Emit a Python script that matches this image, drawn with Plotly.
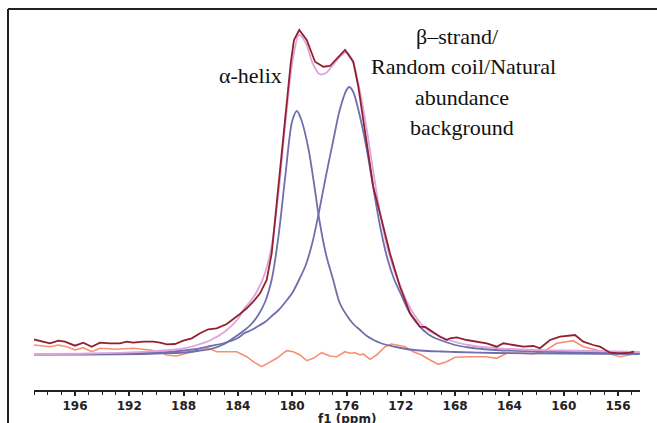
import plotly.graph_objects as go

# ---- experimental spectrum (ppm, intensity) ----
exp_ppm = [199.07, 198.45, 197.84, 197.23, 196.74, 196.0, 195.39, 194.77, 194.16, 193.42,
           192.69, 192.19, 191.71, 190.97, 190.23, 189.74, 189.24, 188.63, 188.02, 187.40,
           186.79, 186.18, 185.56, 184.82, 184.34, 183.85, 183.35, 182.87, 182.37, 181.88,
           181.51, 181.27, 181.02, 180.77, 180.53, 180.29, 180.11, 179.87, 179.48, 178.93,
           178.32, 177.71, 177.22, 176.11, 175.50, 175.13, 174.76, 174.39, 174.03, 173.41,
           172.80, 172.06, 171.32, 170.59, 170.2, 169.11, 168.62, 168.38, 167.88, 167.15,
           166.41, 165.67, 164.94, 164.45, 163.71, 162.98, 162.24, 161.75, 161.01, 160.27,
           159.17, 158.56, 157.82, 157.33, 156.59, 155.86, 155.12, 154.82]
exp_int = [15.7, 13.3, 11.7, 14.3, 13.3, 9.3, 12.3, 8.3, 12.3, 11.7,
           11.7, 13.3, 12.3, 13.3, 13.3, 12.3, 10.7, 11.0, 14.3, 16.7,
           21.7, 25.7, 26.7, 31.0, 35.7, 41.0, 46.7, 53.3, 61.7, 75.0,
           101.7, 135.0, 168.3, 201.7, 235.0, 268.3, 291.7, 315.0, 325.0, 315.0,
           293.3, 288.3, 289.0, 305.0, 293.3, 268.3, 235.0, 201.7, 168.3, 135.0,
           101.7, 68.3, 41.7, 28.3, 28.0, 18.3, 15.0, 16.7, 17.7, 15.0,
           13.3, 11.7, 8.3, 11.7, 10.0, 8.3, 9.0, 6.7, 15.0, 18.3,
           20.0, 13.3, 10.0, 8.3, 2.3, 1.7, 2.3, 3.3]

# ---- residual ----
res_ppm = [199.07, 197.84, 197.23, 196.61, 196.0, 195.39, 194.77, 194.16, 192.93, 191.71,
           190.48, 189.74, 189.24, 188.51, 187.77, 186.79, 186.18, 185.56, 184.82, 184.09,
           183.35, 182.87, 182.25, 181.64, 181.14, 180.41, 179.92, 179.43, 178.93, 178.45,
           177.83, 177.22, 176.72, 176.11, 175.74, 175.37, 175.0, 174.76, 174.27, 173.78,
           173.16, 172.67, 172.18, 171.69, 171.08, 170.46, 169.85, 169.24, 168.62, 168.01,
           166.90, 165.67, 164.94, 164.20, 163.22, 162.24, 161.50, 160.52, 159.29, 158.56,
           157.57, 156.59, 155.86, 154.82]
res_int = [10.0, 8.3, 10.0, 8.3, 5.0, 7.3, 3.3, 6.7, 5.7, 6.7,
           5.0, 3.3, 0.0, -1.0, 1.7, 5.0, 6.7, 3.3, 3.3, 3.3,
           -1.7, -6.7, -11.7, -6.7, -3.3, 4.3, 3.3, 0.0, -5.7, -3.3,
           2.3, -1.0, -1.7, 3.3, 1.7, 2.3, 0.0, 1.0, -4.3, 0.0,
           8.3, 11.0, 10.0, 8.3, 3.3, 0.0, -5.0, -9.3, -6.7, -2.3,
           -1.7, -1.7, -3.3, 1.7, 1.7, 1.0, 3.3, 11.7, 14.3, 8.3,
           5.0, 1.0, -1.7, 1.0]

# ---- fitted total ----
fit_ppm = [199.0, 195.0, 191.0, 189.0, 188.0, 187.0, 186.0, 185.0, 184.0, 183.5, 183.0,
           182.5, 182.0, 181.5, 181.0, 180.5, 180.0, 179.5, 179.0, 178.5, 178.0, 177.5,
           177.0, 176.5, 176.0, 175.5, 175.0, 174.5, 174.0, 173.5, 173.0, 172.5, 172.0,
           171.5, 171.0, 170.5, 170.0, 169.0, 168.0, 167.0, 166.0, 165.0, 164.0, 162.0,
           160.0, 158.0, 156.0, 154.4]
fit_int = [1.0, 1.5, 3.2, 5.0, 6.5, 10.0, 15.0, 23.0, 36.0, 47.0, 55.0,
           66.0, 82.0, 110.0, 163.0, 232.0, 292.0, 320.0, 312.0, 292.0, 281.0, 282.0,
           290.0, 298.0, 303.0, 292.0, 263.0, 225.0, 181.0, 140.0, 108.0, 85.0, 68.0,
           52.0, 40.0, 31.0, 25.0, 18.0, 13.0, 10.0, 8.0, 7.0, 6.0, 5.0,
           4.5, 4.0, 3.5, 3.0]

# ---- alpha-helix component ----
alpha_ppm = [199.0, 195.0, 191.0, 189.0, 188.0, 187.0, 186.0, 185.0, 184.0, 183.5, 183.0,
             182.5, 182.0, 181.5, 181.0, 180.5, 180.0, 179.65, 179.3, 178.8, 178.4, 178.0,
             177.5, 177.0, 176.5, 176.0, 175.5, 175.0, 174.5, 174.0, 173.5, 173.0, 172.0,
             171.0, 170.0, 169.0, 168.0, 165.0, 160.0, 154.4]
alpha_int = [0.3, 0.5, 1.0, 1.8, 2.5, 4.0, 6.0, 11.0, 20.0, 25.0, 31.0,
             40.0, 53.0, 76.0, 120.0, 180.0, 234.0, 244.0, 234.0, 206.0, 172.0, 135.0,
             100.0, 76.0, 52.0, 40.0, 31.0, 25.0, 19.0, 15.0, 12.0, 10.0, 7.0,
             5.0, 4.0, 3.5, 3.0, 2.0, 1.5, 1.0]

# ---- beta-strand / random coil component ----
beta_ppm = [199.0, 195.0, 193.0, 191.0, 189.0, 188.0, 187.0, 186.0, 185.0, 184.0, 183.5,
            183.0, 182.5, 182.0, 181.5, 181.0, 180.5, 180.0, 179.5, 179.0, 178.5, 178.0,
            177.5, 177.0, 176.5, 176.0, 175.8, 175.5, 175.0, 174.5, 174.0, 173.5, 173.0,
            172.5, 172.0, 171.5, 171.0, 170.5, 170.0, 169.5, 169.0, 168.0, 167.0, 166.0,
            165.0, 164.0, 162.0, 160.0, 158.0, 156.0, 154.4]
beta_int = [0.6, 1.0, 1.4, 2.0, 3.2, 4.5, 6.0, 9.0, 12.0, 17.0, 22.0,
            25.0, 29.0, 33.0, 39.0, 45.0, 53.0, 62.0, 75.0, 90.0, 113.0, 145.0,
            180.0, 213.0, 245.0, 265.0, 268.0, 263.0, 238.0, 205.0, 165.0, 127.0, 97.0,
            76.0, 61.0, 46.0, 35.0, 27.0, 21.0, 17.0, 14.5, 10.0, 7.5, 6.0,
            5.0, 4.3, 3.5, 3.0, 2.5, 2.0, 1.8]

# ---- labels ----
label_texts = ["α-helix", "β–strand/", "Random coil/Natural", "abundance", "background"]
label_ppm = [183.1, 167.85, 167.4, 167.5, 167.5]
label_int = [280, 319, 289, 258, 228]
axis_title = "f1 (ppm)"

BLUE = "#6f6fae"
fig = go.Figure()
fig.add_trace(go.Scatter(x=res_ppm, y=res_int, mode="lines",
                         line=dict(color="#f79072", width=1.6)))
fig.add_trace(go.Scatter(x=alpha_ppm, y=alpha_int, mode="lines",
                         line=dict(color=BLUE, width=1.8, shape="spline", smoothing=0.8)))
fig.add_trace(go.Scatter(x=beta_ppm, y=beta_int, mode="lines",
                         line=dict(color=BLUE, width=1.8, shape="spline", smoothing=0.8)))
fig.add_trace(go.Scatter(x=fit_ppm, y=fit_int, mode="lines",
                         line=dict(color="#dca6dc", width=1.8, shape="spline", smoothing=0.8)))
fig.add_trace(go.Scatter(x=exp_ppm, y=exp_int, mode="lines",
                         line=dict(color="#932030", width=1.8)))

ann = []
for txt, xv, yv in zip(label_texts, label_ppm, label_int):
    ann.append(dict(text=txt, x=xv, y=yv, xref="x", yref="y", showarrow=False,
                    xanchor="center", yanchor="middle",
                    font=dict(family="Liberation Serif", size=22, color="#111")))
ann.append(dict(text=axis_title, x=176.0, y=-0.076, xref="x", yref="paper", showarrow=False,
                xanchor="center", yanchor="middle",
                font=dict(family="DejaVu Sans", size=12, color="#222", weight="bold")))

fig.update_layout(
    width=657, height=423,
    margin=dict(l=34, r=17, t=10, b=33),
    paper_bgcolor="white", plot_bgcolor="white",
    showlegend=False,
    xaxis=dict(range=[199.02, 154.38], tick0=196, dtick=4, ticks="outside",
               ticklen=4, tickwidth=1.5, tickcolor="#222", automargin=False,
               showline=True, linecolor="#222", linewidth=1.5,
               showgrid=False, zeroline=False,
               tickfont=dict(family="DejaVu Sans", size=12, color="#222", weight="bold"),
               minor=dict(dtick=1, ticks="outside", ticklen=3, tickcolor="#222", tickwidth=1.2,
                          showgrid=False)),
    yaxis=dict(range=[-35, 345], visible=False, showgrid=False, zeroline=False,
               automargin=False),
    shapes=[
        dict(type="line", xref="paper", yref="paper", x0=-26/606, x1=1.1,
             y0=381/380, y1=381/380, line=dict(color="#222", width=2)),
        dict(type="line", xref="paper", yref="paper", x0=-26/606, x1=-26/606,
             y0=381/380, y1=-0.2, line=dict(color="#222", width=2)),
    ],
    annotations=ann,
)

fig.write_html("out.html", config={"displayModeBar": False},
               post_script="document.body.style.margin='0px';")
